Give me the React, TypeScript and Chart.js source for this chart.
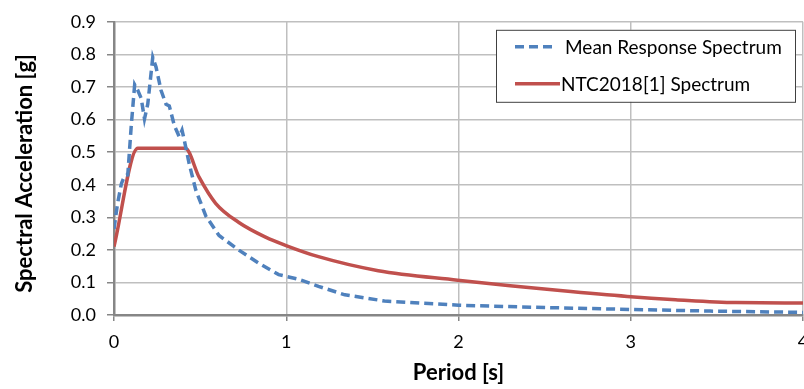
import { useEffect, useRef } from "react";
import { Chart, registerables } from "chart.js";

Chart.register(...registerables);

const meanPeriods = [0, 0.02, 0.043, 0.062, 0.08, 0.1, 0.12, 0.138, 0.158, 0.177, 0.196, 0.225, 0.244, 0.273, 0.302, 0.321, 0.35, 0.379, 0.395, 0.408, 0.437, 0.475, 0.533, 0.61, 0.725, 0.84, 0.956, 1.07, 1.187, 1.34, 1.57, 2.0, 2.5, 3.0, 3.46, 4.0];
const meanValues = [0.264, 0.34, 0.403, 0.428, 0.43, 0.58, 0.707, 0.69, 0.665, 0.602, 0.647, 0.791, 0.761, 0.69, 0.647, 0.642, 0.582, 0.547, 0.567, 0.537, 0.463, 0.383, 0.304, 0.244, 0.199, 0.159, 0.124, 0.11, 0.088, 0.062, 0.043, 0.03, 0.023, 0.017, 0.012, 0.008];

const ntcPeriods = [0, 0.138, 0.414, 0.494, 0.59, 0.725, 0.88, 0.995, 1.187, 1.534, 1.995, 2.3, 2.59, 2.98, 3.26, 3.61, 4.0];
const ntcValues = [0.21, 0.512, 0.512, 0.423, 0.343, 0.284, 0.239, 0.214, 0.179, 0.136, 0.107, 0.09, 0.075, 0.057, 0.047, 0.038, 0.037];

const seriesLabels = ["Mean Response Spectrum", "NTC2018[1] Spectrum"];
const xTicks = [0, 1, 2, 3, 4];
const yTicks = [0, 0.1, 0.2, 0.3, 0.4, 0.5, 0.6, 0.7, 0.8, 0.9];
const xTitle = "Period [s]";
const yTitle = "Spectral Acceleration [g]";

const BLUE = "#4f81bd";
const RED = "#c0504d";
const FONT = "Lato";

export default function App() {
  const ref = useRef<HTMLCanvasElement>(null);

  useEffect(() => {
    if (!ref.current) return;
    const legendPlugin = {
      id: "boxLegend",
      afterDraw(chart: any) {
        const ctx = chart.ctx;
        const ca = chart.chartArea;
        // y-axis title
        ctx.save();
        ctx.font = `bold 22px ${FONT}`;
        ctx.fillStyle = "#000";
        ctx.textAlign = "center";
        ctx.textBaseline = "middle";
        ctx.translate(25, (ca.top + ca.bottom) / 2 + 5);
        ctx.rotate(-Math.PI / 2);
        ctx.fillText(yTitle, 0, 0);
        ctx.restore();

        const bx = ca.right - 307;
        const by = ca.top + 8;
        const bw = 299;
        const bh = 72;
        ctx.save();
        ctx.fillStyle = "#ffffff";
        ctx.fillRect(bx, by, bw, bh);
        ctx.strokeStyle = "#404040";
        ctx.lineWidth = 1;
        ctx.strokeRect(bx + 0.5, by + 0.5, bw, bh);
        ctx.font = `19px ${FONT}`;
        ctx.textBaseline = "middle";
        ctx.fillStyle = "#000";
        ctx.lineWidth = 3.5;
        ctx.strokeStyle = BLUE;
        ctx.setLineDash([9, 5]);
        ctx.beginPath();
        ctx.moveTo(bx + 19, by + 17);
        ctx.lineTo(bx + 60, by + 17);
        ctx.stroke();
        ctx.setLineDash([]);
        ctx.fillText(seriesLabels[0], bx + 69, by + 18);
        ctx.strokeStyle = RED;
        ctx.beginPath();
        ctx.moveTo(bx + 19, by + 54);
        ctx.lineTo(bx + 64, by + 54);
        ctx.stroke();
        ctx.fillText(seriesLabels[1], bx + 65, by + 55);
        ctx.restore();
      },
    };

    const chart = new Chart(ref.current, {
      type: "scatter",
      data: {
        datasets: [
          {
            label: seriesLabels[0],
            data: meanPeriods.map((x, i) => ({ x, y: meanValues[i] })),
            showLine: true,
            borderColor: BLUE,
            backgroundColor: BLUE,
            borderWidth: 3.5,
            borderDash: [9, 5],
            pointRadius: 0,
            tension: 0,
          },
          {
            label: seriesLabels[1],
            data: ntcPeriods.map((x, i) => ({ x, y: ntcValues[i] })),
            showLine: true,
            borderColor: RED,
            backgroundColor: RED,
            borderWidth: 3.5,
            pointRadius: 0,
            cubicInterpolationMode: "monotone",
          },
        ],
      },
      options: {
        responsive: false,
        animation: false,
        layout: { padding: { top: 14, right: 27, left: 0, bottom: 0 } },
        plugins: { legend: { display: false }, tooltip: { enabled: false } },
        scales: {
          x: {
            type: "linear",
            min: xTicks[0],
            max: xTicks[xTicks.length - 1],
            afterBuildTicks: (s: any) => {
              s.ticks = xTicks.map((v) => ({ value: v }));
            },
            ticks: { color: "#000", font: { family: FONT, size: 18 }, padding: 10 },
            grid: { color: "#bfbfbf", lineWidth: 1.5, tickColor: "#868686", tickLength: 6 },
            border: { color: "#868686", width: 2.5 },
            title: {
              display: true,
              text: xTitle,
              color: "#000",
              font: { family: FONT, size: 22, weight: "bold" },
              padding: { top: 0, bottom: 3 },
            },
            afterFit: (s: any) => {
              s.height = 74;
            },
          },
          y: {
            type: "linear",
            min: yTicks[0],
            max: yTicks[yTicks.length - 1],
            afterBuildTicks: (s: any) => {
              s.ticks = yTicks.map((v) => ({ value: v }));
            },
            ticks: {
              color: "#000",
              font: { family: FONT, size: 18 },
              padding: 11,
              callback: (v: any) => Number(v).toFixed(1),
            },
            grid: { color: "#bfbfbf", lineWidth: 1.5, tickColor: "#868686", tickLength: 7 },
            border: { color: "#868686", width: 2.5 },
            title: { display: false },
            afterFit: (s: any) => {
              s.width = 114;
            },
          },
        },
      },
      plugins: [legendPlugin],
    } as any);
    return () => chart.destroy();
  }, []);

  return (
    <div
      style={{
        position: "fixed",
        left: 0,
        top: 0,
        width: 804,
        height: 389,
        overflow: "hidden",
        background: "#fff",
      }}
    >
      <canvas ref={ref} width={830} height={389} style={{ display: "block" }} />
    </div>
  );
}
